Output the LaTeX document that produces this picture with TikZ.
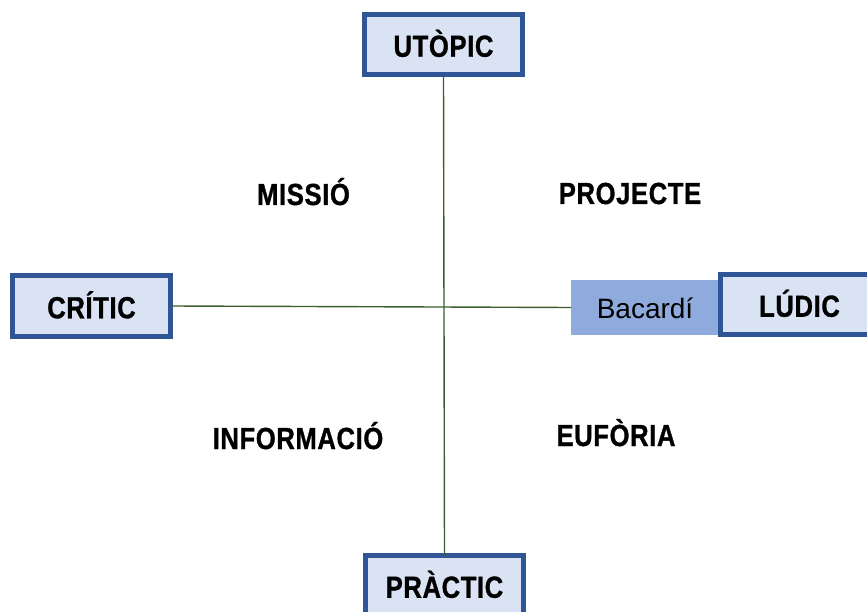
\documentclass[tikz,border=0pt]{standalone}
\usepackage{fontspec}
\setmainfont{Liberation Sans}
\newfontfamily\narrowbold{Liberation Sans}[FakeStretch=0.84,LetterSpace=2,FakeBold=1]
\definecolor{boxfill}{HTML}{DAE3F3}
\definecolor{boxedge}{HTML}{2F5597}
\definecolor{tagfill}{HTML}{8FAADC}
\definecolor{axisgreen}{HTML}{3D5E2E}
\begin{document}
\begin{tikzpicture}[x=1pt,y=-1pt,
  pole/.style={draw=boxedge,fill=boxfill,line width=5pt,minimum width=158pt,
    minimum height=60pt,inner sep=0pt,outer sep=0pt,
    font=\narrowbold\bfseries\fontsize{30.5}{33}\selectfont,text height=24.5pt,text depth=0pt},
  tag/.style={fill=tagfill,minimum width=148pt,minimum height=55pt,inner sep=0pt,outer sep=0pt,
    font=\fontsize{28}{30}\selectfont,text height=21pt,text depth=0pt},
  quad/.style={anchor=base,inner sep=0pt,font=\narrowbold\bfseries\fontsize{30.5}{33}\selectfont},
  axis/.style={draw=axisgreen,line width=1.4pt}]
  \useasboundingbox (0,0) rectangle (867,612);

  % axis end boxes
  \node[tag] (bacardi) at (645,307.5) {Bacardí};
  \node[pole] (utopic) at (443.5,44.5) {UTÒPIC};
  \node[pole] (critic) at (91.5,306) {CRÍTIC};
  \node[pole] (ludic) at (799.5,304.5) {LÚDIC};
  \node[pole] (practic) at (444.5,585.5) {PRÀCTIC};

  % axes
  \draw[axis] (utopic.south) -- (practic.north);
  \draw[axis] (critic.east) -- (bacardi.west);

  % quadrant labels
  \node[quad] (missio) at (303.5,205) {MISSIÓ};
  \node[quad] (projecte) at (630,204) {PROJECTE};
  \node[quad] (informacio) at (298,449) {INFORMACIÓ};
  \node[quad] (euforia) at (616,446) {EUFÒRIA};
\end{tikzpicture}
\end{document}
